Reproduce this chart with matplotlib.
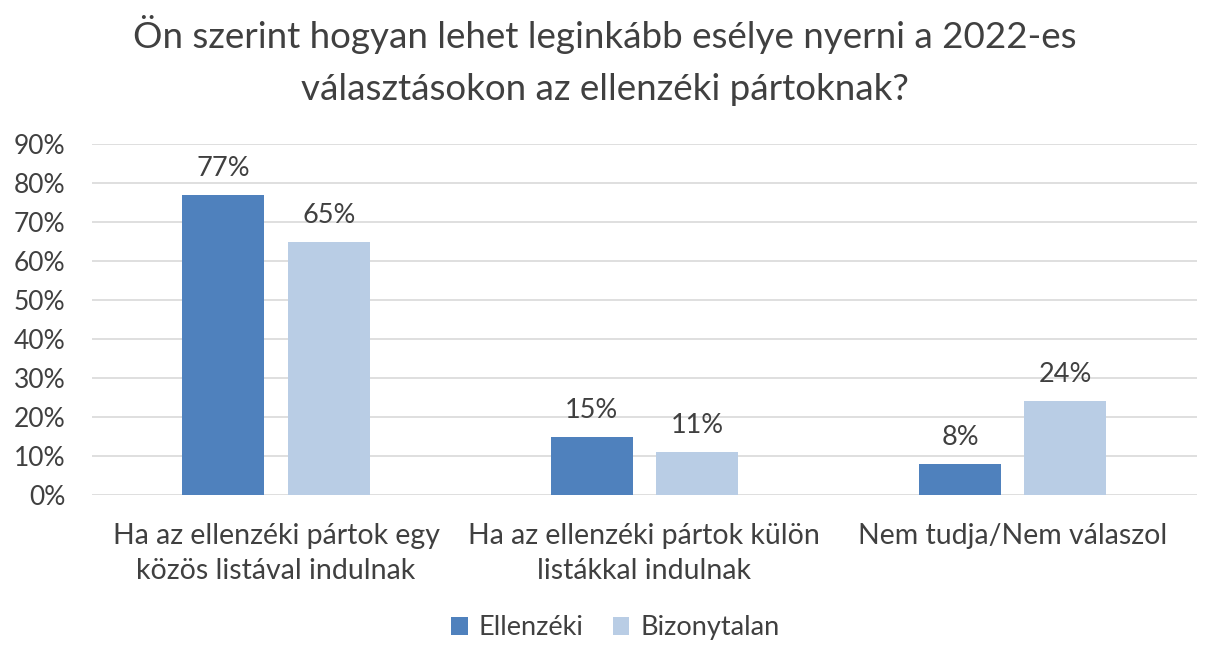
import matplotlib.pyplot as plt
import numpy as np

plt.rcParams['font.family'] = ['Lato', 'DejaVu Sans']

categories = ['Ha az ellenzéki pártok egy\nközös listával indulnak',
              'Ha az ellenzéki pártok külön\nlistákkal indulnak',
              'Nem tudja/Nem válaszol']
ellenzeki = [77, 15, 8]
bizonytalan = [65, 11, 24]
series_names = ['Ellenzéki', 'Bizonytalan']
yticks = [0, 10, 20, 30, 40, 50, 60, 70, 80, 90]

dark = '#4f81bd'
light = '#b9cde5'
text_col = '#404040'

fig = plt.figure(figsize=(12.09, 6.61), dpi=100)
ax = fig.add_axes([0.076, 0.251, 0.914, 0.531])

x = np.arange(len(categories))
w = 0.223
off = 0.143
b1 = ax.bar(x - off, ellenzeki, w, color=dark, label=series_names[0], zorder=3)
b2 = ax.bar(x + off, bizonytalan, w, color=light, label=series_names[1], zorder=3)

for bars in (b1, b2):
    for rect in bars:
        h = rect.get_height()
        ax.text(rect.get_x() + rect.get_width() / 2, h + 3.6, f'{h:.0f}%',
                ha='center', va='bottom', fontsize=19.5, color=text_col)

ax.set_xlim(-0.5, 2.5)
ax.set_ylim(0, 90)
ax.set_yticks(yticks)
ax.set_yticklabels([f'{t}%' for t in yticks])
ax.set_xticks(x)
ax.set_xticklabels(categories, linespacing=1.45, fontsize=20.5)
ax.tick_params(axis='y', length=0, labelsize=19, labelcolor=text_col, pad=19)
ax.tick_params(axis='x', length=0, labelcolor=text_col, pad=20)
ax.grid(axis='y', color='#d9d9d9', linewidth=1.2, zorder=0)
for s in ax.spines.values():
    s.set_visible(False)

fig.suptitle('Ön szerint hogyan lehet leginkább esélye nyerni a 2022-es\nválasztásokon az ellenzéki pártoknak?',
             y=0.977, fontsize=26.5, color=text_col, linespacing=1.7)

fig.legend(handles=[b1, b2], loc='center', bbox_to_anchor=(0.509, 0.05), ncol=2,
           frameon=False, fontsize=19.5, handlelength=0.6, handleheight=0.6,
           columnspacing=1.1, handletextpad=0.4, labelcolor=text_col)

fig.savefig('out.png', dpi=100)
